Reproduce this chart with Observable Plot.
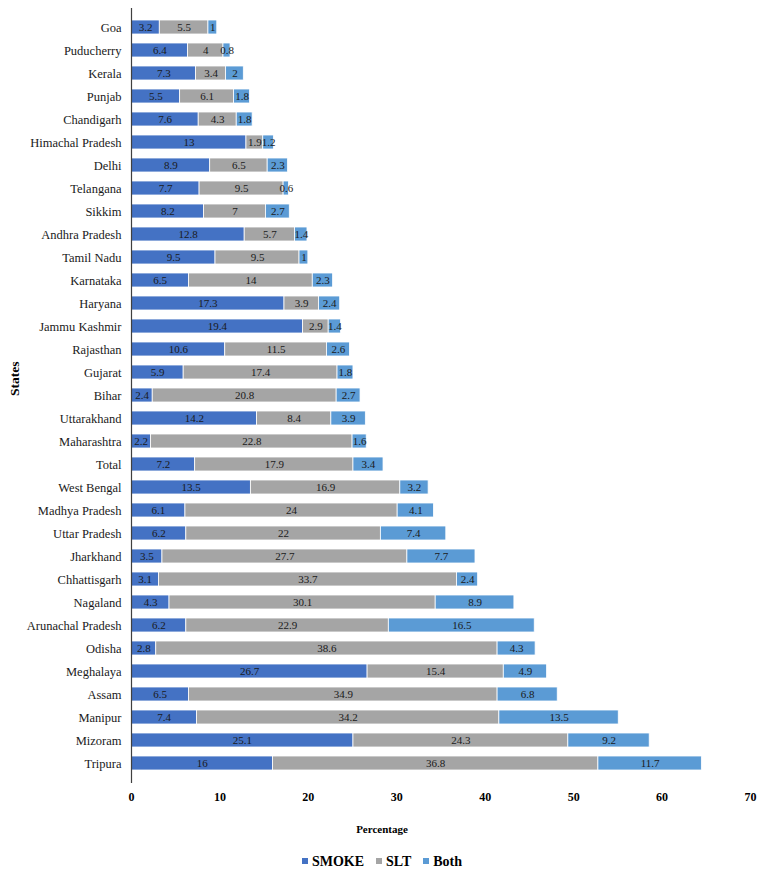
<!DOCTYPE html>
<html>
<head>
<meta charset="utf-8">
<script src="https://cdn.jsdelivr.net/npm/d3@7"></script>
<script src="https://cdn.jsdelivr.net/npm/@observablehq/plot@0.6"></script>
<style>
  html, body { margin: 0; padding: 0; background: #fff; }
  #wrap { position: relative; width: 764px; height: 873px; font-family: "Liberation Serif", "DejaVu Serif", "Times New Roman", serif; }
  #wrap svg, #wrap svg text { font-family: "Liberation Serif", "DejaVu Serif", "Times New Roman", serif !important; }
  #xlabel { position: absolute; left: 0; width: 764px; top: 823px; text-align: center; font-size: 11px; font-weight: bold; color: #000; }
  #legend { position: absolute; left: 0; width: 764px; top: 853px; display: flex; justify-content: center; gap: 12px; font-size: 14px; font-weight: bold; color: #000; line-height: 18px; }
  #legend span.sw { display: inline-block; width: 6px; height: 6px; margin-right: 4px; vertical-align: 2px; }
</style>
</head>
<body>
<div id="wrap">
  <div id="chart"></div>
  <div id="xlabel">Percentage</div>
  <div id="legend"></div>
</div>
<script>
// Tobacco use by state: smoking only, smokeless tobacco only, and both
const states = ["Goa","Puducherry","Kerala","Punjab","Chandigarh","Himachal Pradesh","Delhi","Telangana","Sikkim","Andhra Pradesh","Tamil Nadu","Karnataka","Haryana","Jammu Kashmir","Rajasthan","Gujarat","Bihar","Uttarakhand","Maharashtra","Total","West Bengal","Madhya Pradesh","Uttar Pradesh","Jharkhand","Chhattisgarh","Nagaland","Arunachal Pradesh","Odisha","Meghalaya","Assam","Manipur","Mizoram","Tripura"];
const smoke = [3.2,6.4,7.3,5.5,7.6,13,8.9,7.7,8.2,12.8,9.5,6.5,17.3,19.4,10.6,5.9,2.4,14.2,2.2,7.2,13.5,6.1,6.2,3.5,3.1,4.3,6.2,2.8,26.7,6.5,7.4,25.1,16];
const slt = [5.5,4,3.4,6.1,4.3,1.9,6.5,9.5,7,5.7,9.5,14,3.9,2.9,11.5,17.4,20.8,8.4,22.8,17.9,16.9,24,22,27.7,33.7,30.1,22.9,38.6,15.4,34.9,34.2,24.3,36.8];
const both = [1,0.8,2,1.8,1.8,1.2,2.3,0.6,2.7,1.4,1,2.3,2.4,1.4,2.6,1.8,2.7,3.9,1.6,3.4,3.2,4.1,7.4,7.7,2.4,8.9,16.5,4.3,4.9,6.8,13.5,9.2,11.7];
const seriesNames = ["SMOKE","SLT","Both"];
const seriesColors = ["#4472C4","#A5A5A5","#5B9BD5"];
const xTicks = [0,10,20,30,40,50,60,70];

const columns = [smoke, slt, both];
const rows = [];
seriesNames.forEach((name, i) => {
  states.forEach((s, j) => rows.push({state: s, series: name, value: columns[i][j]}));
});

const font = "'Liberation Serif', 'DejaVu Serif', 'Times New Roman', serif";

const chart = Plot.plot({
  width: 764,
  height: 815,
  marginLeft: 131,
  marginRight: 14,
  marginTop: 8,
  marginBottom: 32,
  style: {fontFamily: font, fontSize: "12px", color: "#000", background: "#fff"},
  x: {domain: [0, 70], ticks: xTicks, label: null},
  y: {domain: states, paddingInner: 0.39, paddingOuter: 0.1, label: null},
  color: {domain: seriesNames, range: seriesColors},
  marks: [
    Plot.barX(rows, Plot.stackX({
      x: "value", y: "state", z: "series", fill: "series",
      stroke: "white", strokeWidth: 0.8
    })),
    Plot.text(rows, Plot.stackX({
      x: "value", y: "state", z: "series",
      text: d => String(d.value),
      fill: "#1a1a1a", fontSize: 11
    })),
    Plot.ruleX([0], {stroke: "#404040", strokeWidth: 1.2}),
    Plot.axisX({
      ticks: xTicks, tickSize: 0, tickPadding: 9, label: null,
      line: true, stroke: "#404040",
      fontWeight: "bold", fontSize: 12, fill: "#000"
    }),
    Plot.axisY({tickSize: 0, tickPadding: 10, label: null, fontSize: 12.5, fill: "#1a1a1a"}),
    Plot.text(["States"], {
      frameAnchor: "left", rotate: -90, dx: -117,
      text: d => d, fontWeight: "bold", fontSize: 13.5, fill: "#000"
    })
  ]
});
document.getElementById("chart").appendChild(chart);

const legend = d3.select("#legend");
seriesNames.forEach((name, i) => {
  const item = legend.append("div");
  item.append("span").attr("class", "sw").style("background", seriesColors[i]);
  item.append("span").text(name);
});
</script>
</body>
</html>
